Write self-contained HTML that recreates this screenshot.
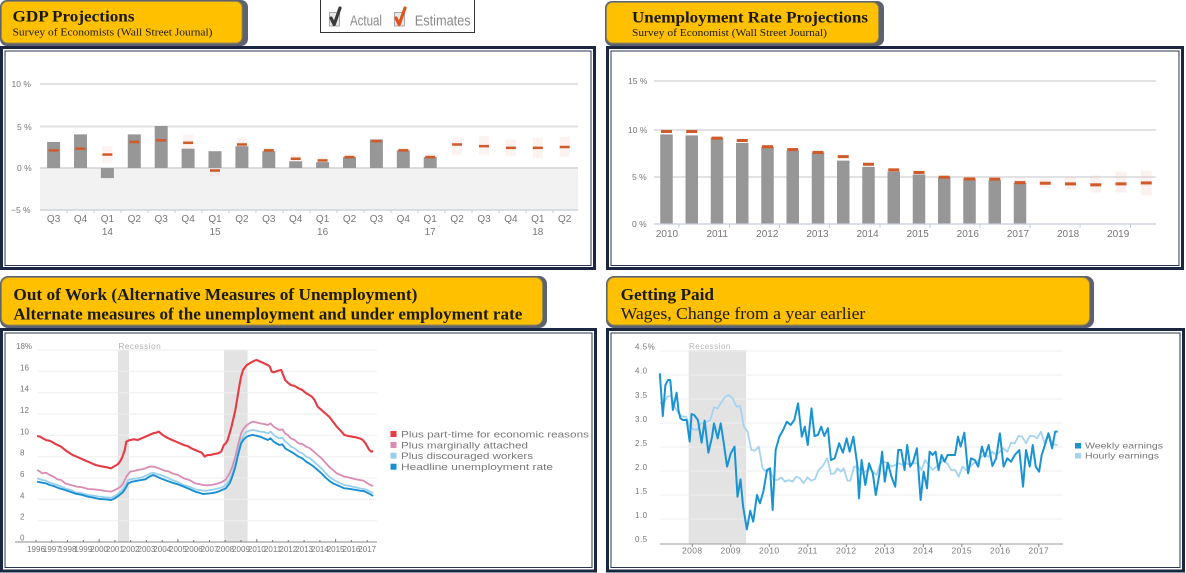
<!DOCTYPE html>
<html>
<head>
<meta charset="utf-8">
<style>
html,body{margin:0;padding:0;background:#fff;}
body{width:1186px;height:573px;overflow:hidden;}
svg{display:block;}
.ax{font-family:"Liberation Sans",sans-serif;fill:#777;}
.tt{font-family:"Liberation Serif",serif;fill:#1a1a1a;}
</style>
</head>
<body>
<svg width="1186" height="573" viewBox="0 0 1186 573" xmlns="http://www.w3.org/2000/svg">
<rect x="0" y="0" width="1186" height="573" fill="#fff"/>

<!-- ============ PANEL BORDERS ============ -->
<g fill="none" stroke="#1b2740">
  <rect x="1.5" y="47.5" width="593" height="221" stroke-width="3"/>
  <rect x="5" y="51" width="586" height="214.5" stroke-width="1" stroke="#2a3552"/>
  <rect x="607.5" y="47.5" width="575" height="221" stroke-width="3"/>
  <rect x="611" y="51" width="568" height="214.5" stroke-width="1" stroke="#2a3552"/>
  <rect x="1.5" y="329.5" width="594" height="241.5" stroke-width="3"/>
  <rect x="5" y="333" width="587" height="234.5" stroke-width="1" stroke="#2a3552"/>
  <rect x="607.5" y="329.5" width="576" height="241.5" stroke-width="3"/>
  <rect x="611" y="333" width="569" height="234.5" stroke-width="1" stroke="#2a3552"/>
</g>

<!-- ============ TABS ============ -->
<rect x="0" y="0" width="248" height="46" rx="7" fill="#5c6270"/>
<rect x="1.5" y="1.5" width="240.5" height="41.5" rx="6" fill="#FFC000" stroke="#9c8a4a" stroke-width="1"/>
<text class="tt" x="12.5" y="21.5" font-size="16" font-weight="bold" textLength="122" lengthAdjust="spacingAndGlyphs">GDP Projections</text>
<text class="tt" x="12.5" y="35.5" font-size="11" textLength="200" lengthAdjust="spacingAndGlyphs">Survey of Economists (Wall Street Journal)</text>

<rect x="605" y="1" width="279" height="45" rx="7" fill="#5c6270"/>
<rect x="606.5" y="2.5" width="272" height="40.5" rx="6" fill="#FFC000" stroke="#9c8a4a" stroke-width="1"/>
<text class="tt" x="632" y="22.5" font-size="16" font-weight="bold" textLength="236" lengthAdjust="spacingAndGlyphs">Unemployment Rate Projections</text>
<text class="tt" x="632" y="36" font-size="11" textLength="195" lengthAdjust="spacingAndGlyphs">Survey of Economist (Wall Street Journal)</text>

<rect x="0" y="276" width="547" height="52" rx="8" fill="#5c6270"/>
<rect x="1.5" y="277.5" width="541" height="47.5" rx="7" fill="#FFC000" stroke="#9c8a4a" stroke-width="1"/>
<text class="tt" x="13.4" y="300" font-size="16.5" font-weight="bold" textLength="404" lengthAdjust="spacingAndGlyphs">Out of Work  (Alternative Measures of Unemployment)</text>
<text class="tt" x="13.4" y="319.3" font-size="16.5" font-weight="bold" textLength="509" lengthAdjust="spacingAndGlyphs">Alternate measures of the unemployment and under employment rate</text>

<rect x="606" y="276" width="488" height="52" rx="8" fill="#5c6270"/>
<rect x="607.5" y="277.5" width="482" height="47.5" rx="7" fill="#FFC000" stroke="#9c8a4a" stroke-width="1"/>
<text class="tt" x="620.6" y="300" font-size="16.5" font-weight="bold" textLength="93.4" lengthAdjust="spacingAndGlyphs">Getting Paid</text>
<text class="tt" x="620.6" y="319" font-size="16.5" textLength="244.7" lengthAdjust="spacingAndGlyphs">Wages, Change from a year earlier</text>

<!-- ============ CHECKBOX LEGEND ============ -->
<rect x="320.5" y="-1" width="154" height="33.5" fill="#fff" stroke="#333" stroke-width="1"/>
<rect x="329.5" y="12.5" width="10" height="13.5" fill="#e9e9e9" stroke="#a8a8a8" stroke-width="1"/>
<path d="M331,18 L334.2,24.5 L340,8" fill="none" stroke="#3a3a3a" stroke-width="3.2" stroke-linejoin="round" stroke-linecap="round"/>
<text x="350" y="25.5" font-family="Liberation Sans, sans-serif" font-size="15" fill="#8a8a8a" textLength="32" lengthAdjust="spacingAndGlyphs">Actual</text>
<rect x="394.5" y="12.5" width="10" height="13.5" fill="#e9e9e9" stroke="#a8a8a8" stroke-width="1"/>
<path d="M396,18 L399.2,24.5 L405,8" fill="none" stroke="#e0531f" stroke-width="3.2" stroke-linejoin="round" stroke-linecap="round"/>
<text x="414.7" y="25.5" font-family="Liberation Sans, sans-serif" font-size="15" fill="#8a8a8a" textLength="56" lengthAdjust="spacingAndGlyphs">Estimates</text>

<!-- ============ GDP CHART ============ -->
<rect x="40" y="168" width="538" height="42" fill="#f2f2f2"/>
<g stroke="#e2e2e2" stroke-width="2">
  <line x1="40" y1="84" x2="578" y2="84"/>
  <line x1="40" y1="126.5" x2="578" y2="126.5"/>
  <line x1="40" y1="168" x2="578" y2="168" stroke="#dcdcdc"/>
</g>
<line x1="40" y1="210" x2="578" y2="210" stroke="#c5cdd8" stroke-width="1.2"/>
<path d="M67,210v3M94,210v3M121,210v3M148,210v3M175,210v3M202,210v3M229,210v3M256,210v3M283,210v3M310,210v3M337,210v3M364,210v3M391,210v3M418,210v3M445,210v3M472,210v3M499,210v3M526,210v3M553,210v3" stroke="#c5cdd8" stroke-width="1"/>
<g class="ax" font-size="8.5">
  <text x="11.5" y="87">10 %</text>
  <text x="17" y="130">5 %</text>
  <text x="17" y="171">0 %</text>
  <text x="11" y="213">−5 %</text>
</g>
<g transform="translate(0,168) scale(1,-8.4)">
  <g fill="#efc3b4" opacity="0.18">
    <rect x="48.6" y="1.5" width="10" height="1.2"/>
    <rect x="75.5" y="1.7" width="10" height="1.2"/>
    <rect x="102.4" y="0.6" width="10" height="2.0"/>
    <rect x="129.3" y="2.6" width="10" height="1.2"/>
    <rect x="156.2" y="2.8" width="10" height="1.0"/>
    <rect x="183.1" y="2.2" width="10" height="1.8"/>
    <rect x="210" y="-0.9" width="10" height="1.2"/>
    <rect x="236.9" y="2.2" width="10" height="1.4"/>
    <rect x="263.8" y="1.8" width="10" height="0.6"/>
    <rect x="290.7" y="0.7" width="10" height="0.9"/>
    <rect x="317.6" y="0.5" width="10" height="0.9"/>
    <rect x="344.5" y="1.0" width="10" height="0.7"/>
    <rect x="371.4" y="3.0" width="10" height="0.5"/>
    <rect x="398.3" y="1.8" width="10" height="0.6"/>
    <rect x="425.2" y="1.0" width="10" height="0.8"/>
    <rect x="452.1" y="1.6" width="10" height="2.0"/>
    <rect x="479" y="1.6" width="10" height="2.2"/>
    <rect x="505.9" y="1.4" width="10" height="2.0"/>
    <rect x="532.8" y="1.2" width="10" height="2.4"/>
    <rect x="559.7" y="1.3" width="10" height="2.4"/>
  </g>
  <g fill="#979797">
    <rect x="47.1" y="0" width="13" height="3.1"/>
    <rect x="74" y="0" width="13" height="4.0"/>
    <rect x="100.9" y="-1.2" width="13" height="1.2"/>
    <rect x="127.8" y="0" width="13" height="4.0"/>
    <rect x="154.7" y="0" width="13" height="5.0"/>
    <rect x="181.6" y="0" width="13" height="2.3"/>
    <rect x="208.5" y="0" width="13" height="2.0"/>
    <rect x="235.4" y="0" width="13" height="2.6"/>
    <rect x="262.3" y="0" width="13" height="2.0"/>
    <rect x="289.2" y="0" width="13" height="0.8"/>
    <rect x="316.1" y="0" width="13" height="0.7"/>
    <rect x="343" y="0" width="13" height="1.3"/>
    <rect x="369.9" y="0" width="13" height="3.4"/>
    <rect x="396.8" y="0" width="13" height="2.1"/>
    <rect x="423.7" y="0" width="13" height="1.3"/>
  </g>
  <g fill="#cf5a2a">
    <rect x="48.6" y="1.95" width="10" height="0.3"/>
    <rect x="75.5" y="2.15" width="10" height="0.3"/>
    <rect x="102.4" y="1.45" width="10" height="0.3"/>
    <rect x="129.3" y="2.95" width="10" height="0.3"/>
    <rect x="156.2" y="3.15" width="10" height="0.3"/>
    <rect x="183.1" y="2.85" width="10" height="0.3"/>
    <rect x="210" y="-0.45" width="10" height="0.3"/>
    <rect x="236.9" y="2.65" width="10" height="0.3"/>
    <rect x="263.8" y="1.95" width="10" height="0.3"/>
    <rect x="290.7" y="0.95" width="10" height="0.3"/>
    <rect x="317.6" y="0.75" width="10" height="0.3"/>
    <rect x="344.5" y="1.15" width="10" height="0.3"/>
    <rect x="371.4" y="3.05" width="10" height="0.3"/>
    <rect x="398.3" y="1.95" width="10" height="0.3"/>
    <rect x="425.2" y="1.15" width="10" height="0.3"/>
    <rect x="452.1" y="2.65" width="10" height="0.3"/>
    <rect x="479" y="2.45" width="10" height="0.3"/>
    <rect x="505.9" y="2.25" width="10" height="0.3"/>
    <rect x="532.8" y="2.25" width="10" height="0.3"/>
    <rect x="559.7" y="2.35" width="10" height="0.3"/>
  </g>
</g>
<g class="ax" font-size="10" fill="#6e6e6e" text-anchor="middle">
  <text x="53.6" y="222">Q3</text><text x="80.5" y="222">Q4</text><text x="107.4" y="222">Q1</text><text x="134.3" y="222">Q2</text>
  <text x="161.2" y="222">Q3</text><text x="188.1" y="222">Q4</text><text x="215" y="222">Q1</text><text x="241.9" y="222">Q2</text>
  <text x="268.8" y="222">Q3</text><text x="295.7" y="222">Q4</text><text x="322.6" y="222">Q1</text><text x="349.5" y="222">Q2</text>
  <text x="376.4" y="222">Q3</text><text x="403.3" y="222">Q4</text><text x="430.2" y="222">Q1</text><text x="457.1" y="222">Q2</text>
  <text x="484" y="222">Q3</text><text x="510.9" y="222">Q4</text><text x="537.8" y="222">Q1</text><text x="564.7" y="222">Q2</text>
  <text x="107.4" y="235">14</text><text x="215" y="235">15</text><text x="322.6" y="235">16</text><text x="430.2" y="235">17</text><text x="537.8" y="235">18</text>
</g>

<!-- ============ UNEMPLOYMENT CHART ============ -->
<g stroke="#e2e2e4" stroke-width="2">
  <line x1="654" y1="81" x2="1156" y2="81"/>
  <line x1="654" y1="130" x2="1156" y2="130"/>
  <line x1="654" y1="177" x2="1156" y2="177"/>
</g>
<g class="ax" font-size="8.5">
  <text x="628" y="84">15 %</text>
  <text x="628" y="133">10 %</text>
  <text x="632" y="180">5 %</text>
  <text x="632" y="227">0 %</text>
</g>
<g transform="translate(0,224) scale(1,-9.53)">
  <g fill="#efc3b4" opacity="0.2">
    <rect x="1014.5" y="4.0" width="11" height="0.8"/>
    <rect x="1039.75" y="3.8" width="11" height="1.0"/>
    <rect x="1065" y="3.6" width="11" height="1.4"/>
    <rect x="1090.25" y="3.3" width="11" height="1.8"/>
    <rect x="1115.5" y="3.3" width="11" height="2.2"/>
    <rect x="1140.75" y="3.0" width="11" height="2.6"/>
  </g>
  <g fill="#979797">
    <rect x="660.25" y="0" width="12.5" height="9.4"/>
    <rect x="685.5" y="0" width="12.5" height="9.3"/>
    <rect x="710.75" y="0" width="12.5" height="9.05"/>
    <rect x="736" y="0" width="12.5" height="8.5"/>
    <rect x="761.25" y="0" width="12.5" height="8.1"/>
    <rect x="786.5" y="0" width="12.5" height="7.7"/>
    <rect x="811.75" y="0" width="12.5" height="7.5"/>
    <rect x="837" y="0" width="12.5" height="6.65"/>
    <rect x="862.25" y="0" width="12.5" height="6.0"/>
    <rect x="887.5" y="0" width="12.5" height="5.5"/>
    <rect x="912.75" y="0" width="12.5" height="5.2"/>
    <rect x="938" y="0" width="12.5" height="4.95"/>
    <rect x="963.25" y="0" width="12.5" height="4.8"/>
    <rect x="988.5" y="0" width="12.5" height="4.6"/>
    <rect x="1013.75" y="0" width="12.5" height="4.3"/>
  </g>
  <g fill="#cf5a2a">
    <rect x="661" y="9.55" width="11" height="0.32"/>
    <rect x="686.25" y="9.55" width="11" height="0.32"/>
    <rect x="711.5" y="8.85" width="11" height="0.32"/>
    <rect x="736.75" y="8.6" width="11" height="0.32"/>
    <rect x="762" y="7.95" width="11" height="0.32"/>
    <rect x="787.25" y="7.65" width="11" height="0.32"/>
    <rect x="812.5" y="7.35" width="11" height="0.32"/>
    <rect x="837.75" y="6.91" width="11" height="0.32"/>
    <rect x="863" y="6.11" width="11" height="0.32"/>
    <rect x="888.25" y="5.52" width="11" height="0.32"/>
    <rect x="913.5" y="5.25" width="11" height="0.32"/>
    <rect x="938.75" y="4.75" width="11" height="0.32"/>
    <rect x="964" y="4.57" width="11" height="0.32"/>
    <rect x="989.25" y="4.55" width="11" height="0.32"/>
    <rect x="1014.5" y="4.18" width="11" height="0.32"/>
    <rect x="1039.75" y="4.12" width="11" height="0.32"/>
    <rect x="1065" y="4.05" width="11" height="0.32"/>
    <rect x="1090.25" y="3.95" width="11" height="0.32"/>
    <rect x="1115.5" y="4.05" width="11" height="0.32"/>
    <rect x="1140.75" y="4.15" width="11" height="0.32"/>
  </g>
</g>
<line x1="654" y1="224" x2="1156" y2="224" stroke="#c5cdd8" stroke-width="1.2"/>
<path d="M679,224v4M729.5,224v4M779.5,224v4M829.5,224v4M880,224v4M930,224v4M980,224v4M1030,224v4M1080,224v4M1130.5,224v4" stroke="#c5cdd8" stroke-width="1"/>
<g class="ax" font-size="10" fill="#6e6e6e" text-anchor="middle">
  <text x="667" y="237">2010</text><text x="717.2" y="237">2011</text><text x="767.3" y="237">2012</text>
  <text x="817.5" y="237">2013</text><text x="867.6" y="237">2014</text><text x="917.7" y="237">2015</text>
  <text x="967.8" y="237">2016</text><text x="1018" y="237">2017</text><text x="1068.1" y="237">2018</text>
  <text x="1118.2" y="237">2019</text>
</g>

<!-- ============ OUT OF WORK CHART ============ -->
<rect x="118" y="350" width="11" height="192" fill="#e3e3e3"/>
<rect x="224" y="350" width="23.6" height="192" fill="#e3e3e3"/>
<g stroke="#eeeeee" stroke-width="1">
  <line x1="38" y1="350" x2="377" y2="350"/>
  <line x1="38" y1="371.3" x2="377" y2="371.3"/>
  <line x1="38" y1="392.7" x2="377" y2="392.7"/>
  <line x1="38" y1="414" x2="377" y2="414"/>
  <line x1="38" y1="435.3" x2="377" y2="435.3"/>
  <line x1="38" y1="456.7" x2="377" y2="456.7"/>
  <line x1="38" y1="478" x2="377" y2="478"/>
  <line x1="38" y1="499.3" x2="377" y2="499.3"/>
  <line x1="38" y1="520.7" x2="377" y2="520.7"/>
</g>
<line x1="15" y1="542" x2="377" y2="542" stroke="#888" stroke-width="1"/>
<path d="M36,542v-2M51.8,542v-2M67.5,542v-2M83.3,542v-2M99.1,542v-3M114.9,542v-2M130.6,542v-2M146.4,542v-2M162.2,542v-2M177.9,542v-3M193.7,542v-2M209.5,542v-2M225.2,542v-2M241,542v-2M256.8,542v-3M272.6,542v-2M288.3,542v-2M304.1,542v-2M319.9,542v-2M335.6,542v-3M351.4,542v-2M367.2,542v-2" stroke="#777" stroke-width="1"/>
<g class="ax" font-size="8" fill="#666">
  <text x="16" y="349">18%</text>
  <text x="20" y="370.3">16</text>
  <text x="20" y="391.7">14</text>
  <text x="20" y="413">12</text>
  <text x="20" y="434.3">10</text>
  <text x="20" y="455.6">8</text>
  <text x="20" y="477">6</text>
  <text x="20" y="498.3">4</text>
  <text x="20" y="519.6">2</text>
  <text x="20" y="540.5">0</text>
  <text x="118.5" y="349" fill="#b0b0b0" letter-spacing="0.6">Recession</text>
</g>
<g class="ax" font-size="8" fill="#555" text-anchor="middle">
  <text x="36" y="552">1996</text><text x="51.8" y="552">1997</text><text x="67.5" y="552">1998</text><text x="83.3" y="552">1999</text>
  <text x="99.1" y="552">2000</text><text x="114.9" y="552">2001</text><text x="130.6" y="552">2002</text><text x="146.4" y="552">2003</text>
  <text x="162.2" y="552">2004</text><text x="177.9" y="552">2005</text><text x="193.7" y="552">2006</text><text x="209.5" y="552">2007</text>
  <text x="225.2" y="552">2008</text><text x="241" y="552">2009</text><text x="256.8" y="552">2010</text><text x="272.6" y="552">2011</text>
  <text x="288.3" y="552">2012</text><text x="304.1" y="552">2013</text><text x="319.9" y="552">2014</text><text x="335.6" y="552">2015</text>
  <text x="351.4" y="552">2016</text><text x="367.2" y="552">2017</text>
</g>
<g transform="translate(0,270) scale(0.38270,0.33333)" fill="none" stroke-linejoin="round">
  <polyline vector-effect="non-scaling-stroke" stroke="#d98cb3" stroke-width="1.8" points="97,600 105,605 110,610 120,608 130,615 140,620 150,628 160,630 170,640 185,645 200,650 215,652 230,657 245,658 260,660 275,663 290,665 300,660 308,655 315,650 322,640 330,620 340,605 350,603 360,600 370,598 380,595 390,590 400,590 408,592 415,595 430,602 440,604 450,610 465,615 480,625 495,630 510,640 520,642 530,645 540,646 550,645 560,643 570,640 580,636 590,628 600,610 607,590 615,560 622,525 630,490 637,475 645,465 652,460 660,455 670,457 680,460 690,462 700,465 707,460 715,470 722,475 730,480 738,478 745,490 752,495 760,505 770,510 780,520 790,522 800,530 810,535 820,545 830,555 840,565 850,578 860,590 870,600 880,610 890,615 900,620 910,622 920,625 930,628 940,630 950,632 960,640 968,645 975,648"/>
  <polyline vector-effect="non-scaling-stroke" stroke="#99cfee" stroke-width="1.8" points="97,625 110,630 120,632 130,638 150,645 170,655 185,660 200,668 215,670 230,675 245,677 260,680 275,682 290,683 300,678 310,670 320,660 328,645 335,630 345,627 360,625 370,622 380,618 390,612 400,608 410,612 420,615 435,622 450,630 465,636 480,645 495,650 510,658 520,660 530,662 540,662 550,660 560,658 570,655 580,652 590,645 600,630 607,610 615,580 622,545 630,510 637,495 645,485 652,482 660,480 670,482 680,485 690,486 700,490 707,485 715,495 722,500 730,505 738,503 745,515 752,520 760,530 770,535 780,545 790,550 800,560 810,565 820,575 830,585 840,595 850,608 860,620 870,628 880,635 890,640 900,645 910,647 920,650 930,652 940,655 950,657 960,660 968,665 975,668"/>
  <polyline vector-effect="non-scaling-stroke" stroke="#1a90d0" stroke-width="1.9" points="97,635 110,638 120,640 130,645 140,648 155,655 170,660 185,666 200,672 215,675 230,680 245,683 260,687 275,688 290,690 300,685 310,677 320,668 328,655 335,640 345,635 360,632 370,630 380,628 390,620 400,615 410,620 420,625 435,632 450,638 465,643 480,650 495,657 510,665 520,668 530,672 540,671 550,670 560,668 570,665 580,660 590,655 600,640 607,620 615,590 622,555 630,520 637,508 645,500 652,497 660,495 670,497 680,500 690,505 700,510 707,505 715,515 722,520 730,525 738,523 745,535 752,540 760,545 770,552 780,560 790,565 800,575 810,582 820,590 830,600 840,610 850,622 860,632 870,640 880,645 890,650 900,655 910,656 920,658 930,660 940,662 950,663 960,668 968,673 975,678"/>
  <polyline vector-effect="non-scaling-stroke" stroke="#e63a44" stroke-width="2.1" points="97,498 105,500 112,505 120,510 128,512 135,515 142,520 150,525 160,530 170,540 180,548 190,555 200,560 210,565 220,570 230,575 240,580 250,585 260,588 270,590 280,592 290,595 297,590 305,585 310,580 315,572 320,560 326,540 330,515 335,512 340,510 350,508 360,510 370,505 380,500 390,495 400,490 408,488 415,485 420,490 425,495 432,500 440,505 450,510 460,515 470,520 480,525 490,528 500,535 510,540 520,545 527,548 535,560 542,555 550,555 560,552 570,550 578,545 585,525 590,520 595,510 600,490 605,470 610,445 615,420 620,385 625,350 630,320 635,300 640,292 645,285 652,280 660,275 665,272 670,270 675,272 680,275 685,277 690,280 695,283 700,285 705,290 710,305 715,307 720,305 727,302 735,300 740,315 745,330 752,338 760,345 770,348 780,355 790,360 800,370 808,375 815,380 822,390 830,410 838,418 845,425 852,432 860,440 870,455 880,470 890,482 900,495 910,498 920,500 930,502 940,505 948,510 955,520 960,530 965,540 970,545 975,543"/>
</g>
<g>
  <rect x="390.5" y="431" width="6" height="6" fill="#e63a44"/>
  <rect x="390.5" y="442" width="6" height="6" fill="#d98cb3"/>
  <rect x="390.5" y="452.7" width="6" height="6" fill="#99cfee"/>
  <rect x="390.5" y="463.7" width="6" height="6" fill="#1a90d0"/>
  <g class="ax" font-size="9" fill="#555">
    <text x="401" y="437.3" textLength="188" lengthAdjust="spacingAndGlyphs">Plus part-time for economic reasons</text>
    <text x="401" y="448.3" textLength="127" lengthAdjust="spacingAndGlyphs">Plus marginally attached</text>
    <text x="401" y="459" textLength="132" lengthAdjust="spacingAndGlyphs">Plus discouraged workers</text>
    <text x="401" y="470" textLength="152" lengthAdjust="spacingAndGlyphs">Headline unemployment rate</text>
  </g>
</g>

<!-- ============ GETTING PAID CHART ============ -->
<rect x="688.6" y="350" width="57.5" height="194" fill="#e3e3e3"/>
<g stroke="#eeeeee" stroke-width="1">
  <line x1="660" y1="351" x2="1063" y2="351"/>
  <line x1="660" y1="375" x2="1063" y2="375"/>
  <line x1="660" y1="399" x2="1063" y2="399"/>
  <line x1="660" y1="423" x2="1063" y2="423"/>
  <line x1="660" y1="447" x2="1063" y2="447"/>
  <line x1="660" y1="471" x2="1063" y2="471"/>
  <line x1="660" y1="495" x2="1063" y2="495"/>
  <line x1="660" y1="519" x2="1063" y2="519"/>
</g>
<line x1="660" y1="544" x2="1063" y2="544" stroke="#999" stroke-width="1"/>
<path d="M692.3,544v3M730.8,544v3M769.3,544v3M807.8,544v3M846.3,544v3M884.8,544v3M923.3,544v3M961.8,544v3M1000.3,544v3M1038.8,544v3" stroke="#888" stroke-width="1"/>
<g class="ax" font-size="8" fill="#777" letter-spacing="0.5">
  <text x="635" y="349.5">4.5%</text>
  <text x="635" y="373.5">4.0</text>
  <text x="635" y="397.8">3.5</text>
  <text x="635" y="421.8">3.0</text>
  <text x="635" y="445.8">2.5</text>
  <text x="635" y="469.8">2.0</text>
  <text x="635" y="493.8">1.5</text>
  <text x="635" y="518">1.0</text>
  <text x="635" y="542">0.5</text>
  <text x="689" y="349" fill="#b5b5b5">Recession</text>
</g>
<g class="ax" font-size="8.5" fill="#666" letter-spacing="0.4" text-anchor="middle">
  <text x="692.3" y="553.5">2008</text><text x="730.8" y="553.5">2009</text><text x="769.3" y="553.5">2010</text>
  <text x="807.8" y="553.5">2011</text><text x="846.3" y="553.5">2012</text><text x="884.8" y="553.5">2013</text>
  <text x="923.3" y="553.5">2014</text><text x="961.8" y="553.5">2015</text><text x="1000.3" y="553.5">2016</text>
  <text x="1038.8" y="553.5">2017</text>
</g>
<g transform="translate(600,270) scale(0.37369,0.33333)" fill="none" stroke-linejoin="round">
  <polyline vector-effect="non-scaling-stroke" stroke="#a5d3f0" stroke-width="1.8" points="160,398 170,400 180,380 190,378 200,410 210,430 220,440 230,440 240,470 250,478 260,480 270,460 280,460 295,450 305,412 315,415 323,400 335,380 345,375 355,385 365,410 375,408 385,470 395,485 405,540 415,542 425,530 435,595 445,605 455,600 465,630 475,630 485,622 495,635 505,630 515,635 525,620 535,625 545,640 555,622 565,632 575,628 585,600 595,590 608,565 618,612 628,610 635,595 645,605 652,595 662,632 670,632 680,590 690,590 700,612 710,605 720,595 730,605 740,615 750,582 760,575 770,580 780,590 790,585 800,580 810,585 820,580 830,585 840,580 850,580 860,600 870,570 880,585 890,600 900,590 910,580 920,570 930,582 940,600 950,600 960,620 970,590 980,600 990,590 1000,580 1010,575 1020,560 1030,555 1040,560 1050,545 1060,555 1070,545 1080,535 1090,545 1100,518 1110,520 1120,498 1130,500 1140,520 1150,498 1160,498 1170,505 1180,485 1190,520 1200,490 1210,520 1220,525 1225,525"/>
  <polyline vector-effect="non-scaling-stroke" stroke="#1993d2" stroke-width="2" points="160,310 168,438 175,345 182,330 188,330 195,420 205,368 210,420 215,445 222,450 232,450 240,515 245,432 252,435 262,450 272,518 280,452 290,548 300,500 305,460 315,505 323,460 330,510 340,590 350,550 360,530 368,680 376,628 383,710 393,778 402,722 410,755 420,675 428,700 437,665 447,600 455,595 462,720 470,540 480,500 490,480 500,455 510,465 520,450 530,400 540,500 548,470 556,525 566,415 574,498 583,495 592,470 600,498 610,475 618,570 628,565 640,520 650,548 660,505 668,545 678,500 688,580 693,685 700,570 710,645 720,580 730,610 738,675 748,610 755,545 762,635 770,578 780,620 790,650 798,540 806,540 815,600 822,525 830,590 838,575 848,535 858,690 866,605 875,655 882,545 890,555 898,545 906,600 914,555 922,575 930,555 940,555 950,555 958,500 965,530 975,488 985,610 993,565 1003,570 1012,590 1022,530 1030,560 1040,525 1050,588 1060,565 1070,490 1080,590 1090,565 1100,575 1110,555 1122,540 1132,650 1140,540 1150,590 1158,525 1166,590 1175,605 1182,555 1192,520 1200,490 1210,535 1218,485 1225,485"/>
</g>
<g>
  <rect x="1075" y="443" width="6" height="5.5" fill="#1993d2"/>
  <rect x="1075" y="453" width="6" height="5.5" fill="#a5d3f0"/>
  <g class="ax" font-size="8.5" fill="#666">
    <text x="1085" y="448.5" textLength="78" lengthAdjust="spacingAndGlyphs">Weekly earnings</text>
    <text x="1085" y="458.5" textLength="74" lengthAdjust="spacingAndGlyphs">Hourly earnings</text>
  </g>
</g>
</svg>
</body>
</html>
